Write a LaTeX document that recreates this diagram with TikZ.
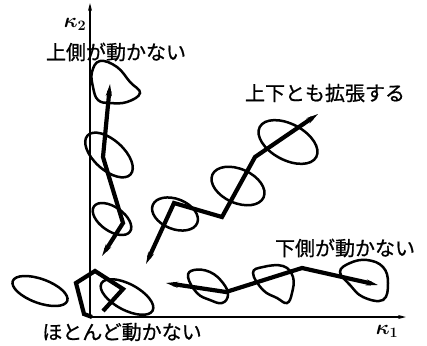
\documentclass[tikz,border=0pt]{standalone}
\usepackage{amsmath}
\usepackage{bm}
\usepackage{fontspec}
\newfontfamily\jp{Noto Sans CJK JP}[FakeBold=0.8]
\usetikzlibrary{arrows.meta}
\begin{document}
\begin{tikzpicture}[x=1pt,y=-1pt,
  axis/.style={line width=1.8pt,-{Stealth[length=8pt,width=4pt]}},
  loopline/.style={line width=2.5pt},
  chain/.style={line width=4.2pt,line join=miter},
  biarrow/.style={{Stealth[length=12pt,width=6pt]}-{Stealth[length=12pt,width=6pt]}},
  lbl/.style={font=\jp\fontsize{20}{22}\selectfont,inner sep=0pt},
  axlbl/.style={font=\huge,inner sep=0pt}]
\useasboundingbox (0,0) rectangle (427,345);
% axes
\coordinate (O) at (90,317);
\coordinate (Ytop) at (90,3);
\coordinate (Xend) at (406,317);
\draw[axis] (O) -- (Ytop);
\draw[axis] (O) -- (Xend);
\node[axlbl] (k2) at (75,24) {$\bm{\kappa_2}$};
\node[axlbl] (k1) at (387,331) {$\bm{\kappa_1}$};
% labels
\node[lbl] (t1) at (116,52) {上側が動かない};
\node[lbl] (t2) at (325,93) {上下とも拡張する};
\node[lbl] (t3) at (345,248) {下側が動かない};
\node[lbl] (t4) at (122,332) {ほとんど動かない};
% left column loops
\draw[loopline] plot[smooth cycle,tension=0.7] coordinates {(100,61) (117,67) (130,82) (140,93) (127,102) (110,103) (98,100) (93,87) (92,72)};
\draw[loopline,rotate around={-42:(109,155)}] (109,155) ellipse [x radius=29,y radius=15];
\draw[loopline,rotate around={-35:(112,219)}] (112,219) ellipse [x radius=22,y radius=12];
% left column chain
\coordinate (a1) at (110,84);
\coordinate (a2) at (103,157);
\coordinate (a3) at (123,223);
\coordinate (a4) at (102,256);
\draw[chain,biarrow] (a1) -- (a2) -- (a3) -- (a4);
% middle loops
\draw[loopline,rotate around={-22:(175,214)}] (175,214) ellipse [x radius=24,y radius=15];
\draw[loopline,rotate around={-24:(238,186)}] (238,186) ellipse [x radius=28,y radius=17];
\draw[loopline,rotate around={-28:(288,142)}] (288,142) ellipse [x radius=32,y radius=18];
% middle chain
\coordinate (b1) at (146,264);
\coordinate (b2) at (174,203);
\coordinate (b3) at (222,217);
\coordinate (b4) at (255,157);
\coordinate (b5) at (318,114);
\draw[chain,biarrow] (b1) -- (b2) -- (b3) -- (b4) -- (b5);
% bottom right loops
\draw[loopline] plot[smooth cycle,tension=0.7] coordinates {(188,277) (194,270) (210,272) (223,283) (228,295) (222,303) (210,300) (197,293)};
\draw[loopline] plot[smooth cycle,tension=0.7] coordinates {(253,273) (263,267) (283,266) (293,277) (292,293) (287,303) (277,298) (263,290)};
\draw[loopline] plot[smooth cycle,tension=0.7] coordinates {(340,272) (350,263) (367,260) (383,267) (388,283) (383,300) (363,297) (350,285)};
% bottom chain
\coordinate (c1) at (166,283);
\coordinate (c2) at (226,292);
\coordinate (c3) at (302,268);
\coordinate (c4) at (378,285);
\draw[chain,biarrow] (c1) -- (c2) -- (c3) -- (c4);
% corner group
\draw[loopline,rotate around={-20:(40,291)}] (40,291) ellipse [x radius=29,y radius=12];
\draw[loopline,rotate around={-28:(127,297)}] (127,297) ellipse [x radius=29,y radius=13];
\coordinate (d1) at (103,311);
\coordinate (d2) at (123,289);
\coordinate (d3) at (95,271);
\coordinate (d4) at (76,283);
\coordinate (d5) at (84,314);
\coordinate (d6) at (92,317);
\draw[chain] (d1) -- (d2) -- (d3) -- (d4) -- (d5) -- (d6);
\end{tikzpicture}
\end{document}
